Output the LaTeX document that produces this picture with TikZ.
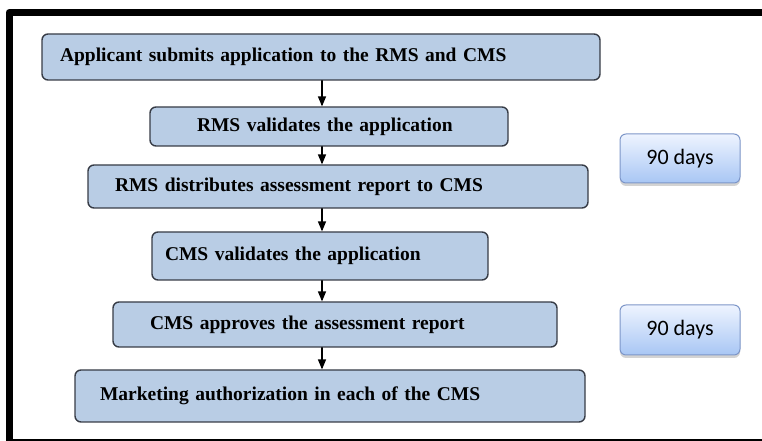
\documentclass[tikz,border=0pt]{standalone}
\usepackage{fontspec}
\setmainfont{Liberation Serif}
\newfontfamily\daysfont{Carlito}
\usetikzlibrary{arrows,shadows}

\definecolor{stepfill}{RGB}{185,205,229}
\definecolor{stepline}{RGB}{55,60,70}
\definecolor{daystop}{RGB}{238,244,255}
\definecolor{daysbot}{RGB}{168,198,244}
\definecolor{daysline}{RGB}{125,150,200}

\tikzset{
  stepbox/.style={draw=stepline, line width=1.4pt, fill=stepfill, rounded corners=6pt,
    align=left, inner ysep=0pt, font=\bfseries\fontsize{19.5}{22}\selectfont},
  daysbox/.style={draw=daysline, line width=1pt, top color=daystop, bottom color=daysbot,
    rounded corners=6pt, minimum width=120pt, minimum height=49pt,
    drop shadow={shadow xshift=0pt, shadow yshift=-3pt, opacity=0.35},
    font=\daysfont\fontsize{22}{25}\selectfont}
}

\begin{document}
\begin{tikzpicture}[line cap=round,line join=round,>=triangle 45,x=1pt,y=1pt]
		\useasboundingbox (0,0) rectangle (762,441);
		% cadre
		\draw[line width=7pt, line cap=butt] (762,428.5) -| (9,0);
		\draw[line width=2pt, line cap=butt] (9,1) -- (762,1);
		% etapes
		\node[stepbox, minimum height=46pt, inner xsep=18pt, text width=522pt] (sub) at (321,384) {Applicant submits application to the RMS and CMS};
		\node[stepbox, minimum height=39pt, inner xsep=47pt, text width=264pt] (rmsval) at (329,314.5) {RMS validates the application};
		\node[stepbox, minimum height=43pt, inner xsep=27pt, text width=446pt] (rmsdist) at (338,254.5) {RMS distributes assessment report to CMS};
		\node[stepbox, minimum height=48pt, inner xsep=13pt, text width=310pt] (cmsval) at (320,185) {CMS validates the application};
		\node[stepbox, minimum height=45pt, inner xsep=37pt, text width=370pt] (cmsapp) at (335,116.5) {CMS approves the assessment report};
		\node[stepbox, minimum height=52pt, inner xsep=25pt, text width=460pt] (auth) at (330,45) {Marketing authorization in each of the CMS};
		% delais
		\node[daysbox] (days1) at (680,282.5) {90 days};
		\node[daysbox, minimum height=50pt] (days2) at (680,111) {90 days};
		% fleches
		\coordinate (ax) at (322,0);
		\draw[->, line width=1.3pt] (sub.south -| ax) -- (rmsval.north -| ax);
		\draw[->, line width=1.3pt] (rmsval.south -| ax) -- (rmsdist.north -| ax);
		\draw[->, line width=1.3pt] (rmsdist.south -| ax) -- (cmsval.north -| ax);
		\draw[->, line width=1.3pt] (cmsval.south -| ax) -- (cmsapp.north -| ax);
		\draw[->, line width=1.3pt] (cmsapp.south -| ax) -- (auth.north -| ax);
\end{tikzpicture}
\end{document}
